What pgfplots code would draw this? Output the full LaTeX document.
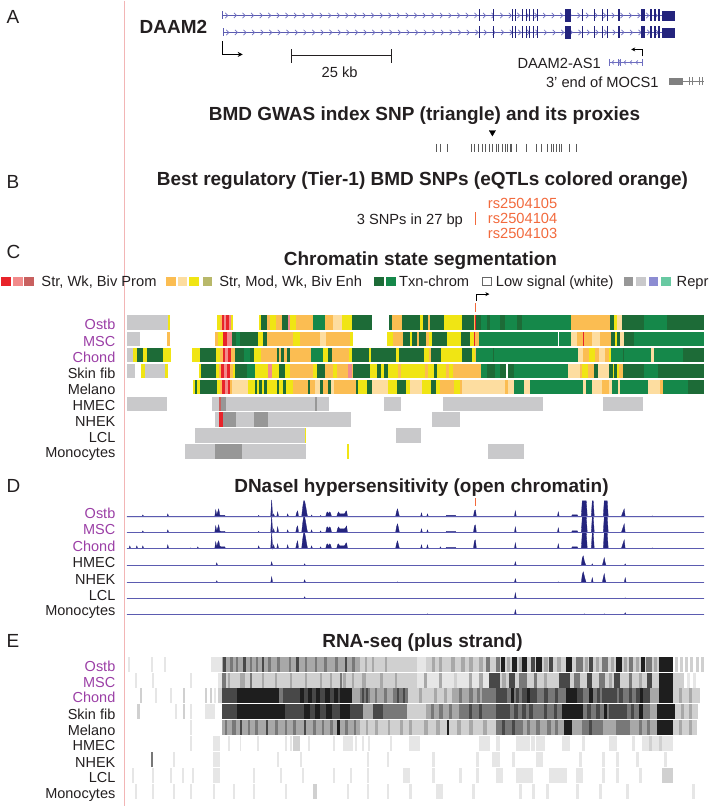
\documentclass[border=0pt]{standalone}
\usepackage{pgfplots}
\pgfplotsset{compat=1.18}
\usepackage{pgfplotstable}
\usepackage{fontspec}
\setmainfont{Liberation Sans}
\usetikzlibrary{decorations.markings,arrows.meta}

\definecolor{c1}{HTML}{E8232A}
\definecolor{c2}{HTML}{F28B8B}
\definecolor{c3}{HTML}{C8605F}
\definecolor{c4}{HTML}{FBBD52}
\definecolor{c5}{HTML}{FDDDA0}
\definecolor{c6}{HTML}{F0E514}
\definecolor{c7}{HTML}{B8B86A}
\definecolor{c8}{HTML}{1D6B37}
\definecolor{c9}{HTML}{15884A}
\definecolor{c10}{HTML}{979797}
\definecolor{c11}{HTML}{C9C9CB}
\definecolor{c12}{HTML}{8C8CD2}
\definecolor{c13}{HTML}{68C9A2}
\definecolor{r1}{HTML}{E6E6E6}
\definecolor{r2}{HTML}{D0D0D0}
\definecolor{r3}{HTML}{A8A8A8}
\definecolor{r4}{HTML}{787878}
\definecolor{r5}{HTML}{484848}
\definecolor{r6}{HTML}{1E1E1E}
\definecolor{txt}{HTML}{231F20}
\definecolor{lab}{HTML}{9B3FA6}
\definecolor{orng}{HTML}{F26A3D}
\definecolor{navy}{HTML}{24247D}
\definecolor{navyl}{HTML}{5B5BB0}
\definecolor{chev}{HTML}{6E6EC0}
\definecolor{pinkl}{HTML}{F2B5B5}

\newcommand\tfont{\fontsize{19}{22}\selectfont\bfseries}
\newcommand\pfont{\fontsize{19}{22}\selectfont}
\newcommand\lfont{\fontsize{14.5}{17}\selectfont}
\newcommand\sfont{\fontsize{14.7}{17}\selectfont}

\pgfdeclareplotmark{seg}{%
  \pgfpathrectangle{\pgfpoint{0pt}{-0.5*\segh pt}}{\pgfpoint{\segw pt}{\segh pt}}%
  \pgfusepathqfill}

\pgfplotsset{segplot/.style={only marks, mark=seg,
  visualization depends on={\thisrow{b}-\thisrow{a}+0.6 \as \segw},
  visualization depends on={value #1 \as \segh}}}

\pgfplotstableread{
a b y s
127 168 322.25 11
168 170 322.25 6
217 220 322.25 6
220 222 322.25 4
222 224 322.25 1
224 226 322.25 2
226 229 322.25 1
229 231 322.25 2
231 233 322.25 6
259 261 322.25 6
261 267 322.25 8
267 270 322.25 4
270 276 322.25 6
276 282 322.25 4
282 288 322.25 8
288 290 322.25 2
290 296 322.25 6
296 313 322.25 4
313 325 322.25 9
325 333 322.25 4
333 342 322.25 5
342 352 322.25 6
352 372 322.25 8
389 392 322.25 8
392 402 322.25 4
402 420 322.25 8
420 424 322.25 6
424 428 322.25 8
428 431 322.25 4
431 444 322.25 8
444 463 322.25 6
463 474 322.25 8
474 475 322.25 4
475 477 322.25 1
477 482 322.25 8
482 487 322.25 9
487 491 322.25 8
491 500 322.25 9
500 506 322.25 8
506 517 322.25 9
517 523 322.25 8
523 557 322.25 9
558 571 322.25 9
571 611 322.25 4
611 614 322.25 8
614 617 322.25 6
617 623 322.25 5
623 645 322.25 8
645 667 322.25 9
667 704 322.25 8
127 140 338.75 11
167 170 338.75 4
215 218 338.75 4
218 223 338.75 6
223 227 338.75 1
227 232 338.75 2
232 236 338.75 8
236 240 338.75 9
240 258 338.75 8
258 263 338.75 6
263 267 338.75 8
267 293 338.75 4
293 300 338.75 6
300 320 338.75 4
320 326 338.75 5
326 350 338.75 4
350 353 338.75 6
387 393 338.75 6
393 403 338.75 4
403 410 338.75 8
410 413 338.75 6
413 417 338.75 8
417 420 338.75 4
420 426 338.75 8
426 430 338.75 4
430 433 338.75 6
433 447 338.75 8
447 462 338.75 6
462 470 338.75 8
470 474 338.75 6
474 476 338.75 1
476 480 338.75 4
480 558 338.75 9
560 571 338.75 9
571 577 338.75 5
577 583 338.75 4
583 585 338.75 1
585 593 338.75 4
593 600 338.75 5
600 612 338.75 4
612 615 338.75 8
615 618 338.75 6
618 620 338.75 8
620 625 338.75 5
625 635 338.75 8
635 704 338.75 9
127 133 354.75 11
133 137 354.75 6
137 143 354.75 8
143 147 354.75 6
147 163 354.75 8
163 171 354.75 6
192 200 354.75 6
200 216 354.75 8
216 220 354.75 6
220 223 354.75 4
223 225 354.75 1
225 228 354.75 2
228 231 354.75 1
231 235 354.75 4
235 244 354.75 8
244 250 354.75 9
250 254 354.75 8
254 261 354.75 6
261 277 354.75 4
277 279 354.75 8
279 281 354.75 4
281 284 354.75 8
284 287 354.75 4
287 290 354.75 8
290 311 354.75 4
311 323 354.75 9
323 328 354.75 6
328 332 354.75 8
332 349 354.75 4
349 352 354.75 6
352 369 354.75 8
369 371 354.75 6
371 396 354.75 8
396 399 354.75 6
399 424 354.75 8
424 429 354.75 6
429 432 354.75 4
432 441 354.75 8
441 463 354.75 6
463 472 354.75 8
472 475 354.75 6
475 477 354.75 4
477 493 354.75 9
493 495 354.75 8
495 578 354.75 9
578 583 354.75 5
583 590 354.75 4
590 595 354.75 6
595 600 354.75 4
600 605 354.75 5
605 610 354.75 4
610 612 354.75 6
612 623 354.75 9
623 625 354.75 8
625 651 354.75 9
651 655 354.75 5
655 683 354.75 9
683 704 354.75 8
127 135 370.75 11
141 145 370.75 6
145 165 370.75 11
165 168 370.75 6
199 201 370.75 6
201 216 370.75 8
216 219 370.75 6
219 221 370.75 4
221 224 370.75 1
224 227 370.75 2
227 230 370.75 1
230 233 370.75 4
233 235 370.75 6
235 247 370.75 8
247 255 370.75 9
255 268 370.75 6
268 272 370.75 2
272 279 370.75 6
279 285 370.75 8
285 290 370.75 6
290 313 370.75 4
313 317 370.75 6
317 325 370.75 8
325 333 370.75 4
333 337 370.75 6
337 348 370.75 4
348 352 370.75 2
352 353 370.75 4
353 370 370.75 8
370 377 370.75 6
377 381 370.75 8
381 384 370.75 6
384 388 370.75 8
388 398 370.75 6
398 401 370.75 4
401 425 370.75 6
425 429 370.75 4
429 435 370.75 6
435 437 370.75 8
437 446 370.75 6
446 450 370.75 4
450 453 370.75 6
453 482 370.75 4
482 487 370.75 9
487 496 370.75 8
496 500 370.75 9
500 506 370.75 8
509 515 370.75 8
515 568 370.75 9
568 580 370.75 5
580 583 370.75 4
583 588 370.75 6
588 595 370.75 4
595 598 370.75 8
598 610 370.75 5
610 613 370.75 8
613 615 370.75 6
615 617 370.75 8
617 619 370.75 6
619 624 370.75 4
624 645 370.75 8
645 658 370.75 9
658 704 370.75 8
193 195 386.75 6
195 197 386.75 8
197 200 386.75 6
200 217 386.75 8
217 220 386.75 6
220 222 386.75 4
222 225 386.75 1
225 228 386.75 2
228 230 386.75 1
230 232 386.75 4
232 248 386.75 5
248 255 386.75 6
255 257 386.75 8
257 259 386.75 6
259 262 386.75 8
262 264 386.75 6
264 267 386.75 8
267 277 386.75 6
277 279 386.75 8
279 283 386.75 6
283 286 386.75 8
286 293 386.75 6
293 308 386.75 4
308 310 386.75 8
310 315 386.75 4
315 320 386.75 5
320 323 386.75 8
323 328 386.75 4
328 331 386.75 8
331 334 386.75 5
334 356 386.75 4
356 358 386.75 8
358 367 386.75 6
367 372 386.75 8
372 388 386.75 5
388 397 386.75 6
397 406 386.75 8
406 410 386.75 6
410 423 386.75 5
423 432 386.75 6
432 436 386.75 8
436 440 386.75 6
440 455 386.75 4
455 460 386.75 6
460 463 386.75 4
463 505 386.75 5
505 509 386.75 4
509 515 386.75 5
515 524 386.75 9
524 531 386.75 5
531 583 386.75 9
583 587 386.75 5
587 592 386.75 9
592 602 386.75 5
602 610 386.75 4
610 613 386.75 5
613 618 386.75 9
618 621 386.75 5
621 648 386.75 9
648 660 386.75 5
660 664 386.75 4
664 688 386.75 9
688 704 386.75 8
127 167 403.75 11
212 219 403.75 11
219 221 403.75 3
221 226 403.75 10
226 315 403.75 11
315 317 403.75 10
317 329 403.75 11
384 401 403.75 11
444 543 403.75 11
604 643 403.75 11
215 219 419.75 11
219 223 419.75 1
223 236 419.75 10
236 254 419.75 11
254 268 419.75 10
268 351 419.75 11
433 460 419.75 11
195 305 435.75 11
305 306 435.75 6
396 421 435.75 11
185 215 451.75 11
215 242 451.75 10
242 306 451.75 11
347 349 451.75 6
489 524 451.75 11
}\chrom

\pgfplotstableread{
a b y s
128 130 664.5 1
151 153 664.5 1
164 166 664.5 1
211 222 664.5 1
222 360 664.5 3
223 226 664.5 5
230 233 664.5 4
236 238 664.5 4
243 246 664.5 5
250 252 664.5 4
256 258 664.5 4
262 264 664.5 5
268 271 664.5 4
277 280 664.5 4
289 291 664.5 4
296 299 664.5 5
305 307 664.5 4
315 317 664.5 4
324 327 664.5 4
335 338 664.5 4
345 347 664.5 5
352 355 664.5 4
360 417 664.5 2
365 367 664.5 3
372 374 664.5 3
385 387 664.5 3
417 427 664.5 1
427 493 664.5 2
433 435 664.5 3
440 442 664.5 3
452 455 664.5 3
462 465 664.5 3
470 473 664.5 3
480 483 664.5 3
487 490 664.5 4
493 660 664.5 2
497 500 664.5 4
502 505 664.5 6
508 510 664.5 3
513 517 664.5 6
520 522 664.5 3
523 527 664.5 6
532 535 664.5 5
537 542 664.5 6
545 548 664.5 3
550 553 664.5 5
558 561 664.5 3
567 572 664.5 6
577 583 664.5 4
586 588 664.5 3
590 593 664.5 5
597 599 664.5 3
603 608 664.5 4
612 614 664.5 3
617 622 664.5 6
625 627 664.5 3
630 633 664.5 4
637 639 664.5 3
642 645 664.5 6
647 652 664.5 4
655 657 664.5 3
660 673 664.5 6
676 678 664.5 2
681 683 664.5 2
686 688 664.5 2
691 693 664.5 2
697 699 664.5 2
702 704 664.5 2
135 137 680.5 1
152 154 680.5 1
190 192 680.5 1
218 222 680.5 1
222 360 680.5 2
222 226 680.5 4
228 230 680.5 3
240 245 680.5 3
250 252 680.5 4
262 264 680.5 3
275 277 680.5 3
290 292 680.5 3
305 307 680.5 3
320 322 680.5 3
330 332 680.5 3
340 342 680.5 4
343 346 680.5 3
352 354 680.5 3
360 417 680.5 2
362 366 680.5 3
380 383 680.5 3
395 397 680.5 3
417 490 680.5 1
425 427 680.5 3
440 442 680.5 3
455 457 680.5 2
470 472 680.5 3
480 483 680.5 3
490 660 680.5 2
490 500 680.5 5
503 506 680.5 3
510 515 680.5 5
520 527 680.5 4
535 537 680.5 4
545 547 680.5 3
560 570 680.5 5
575 580 680.5 4
588 592 680.5 5
600 605 680.5 4
610 612 680.5 3
615 620 680.5 5
630 632 680.5 4
640 642 680.5 3
648 652 680.5 5
660 673 680.5 6
673 684 680.5 2
688 690 680.5 1
694 696 680.5 1
140 142 696 2
155 157 696 1
170 172 696 1
183 185 696 2
205 207 696 2
210 212 696 2
214 216 696 1
218 222 696 2
222 237 696 5
226 228 696 4
232 234 696 4
237 279 696 6
279 283 696 4
283 296 696 5
296 340 696 5
300 304 696 6
308 312 696 6
316 320 696 6
325 330 696 6
334 338 696 6
340 352 696 6
352 360 696 3
360 370 696 4
362 364 696 5
366 368 696 5
370 393 696 3
375 377 696 4
384 387 696 4
393 408 696 4
397 399 696 5
403 405 696 5
408 453 696 2
420 422 696 3
435 437 696 3
445 447 696 3
453 483 696 3
460 462 696 4
470 473 696 4
478 480 696 4
483 497 696 4
497 507 696 5
507 523 696 4
512 514 696 6
517 519 696 5
523 537 696 5
528 530 696 6
537 567 696 4
545 548 696 5
556 558 696 5
567 577 696 6
577 583 696 5
583 603 696 4
590 593 696 6
598 600 696 5
603 617 696 5
617 637 696 4
620 623 696 5
630 632 696 5
637 650 696 5
641 643 696 6
650 660 696 3
660 673 696 6
673 700 696 2
680 682 696 3
690 692 696 3
137 140 712 2
175 177 712 1
183 185 712 2
190 192 712 1
205 215 712 1
222 237 712 5
237 285 712 6
250 252 712 4
263 265 712 4
285 300 712 5
300 340 712 5
304 310 712 6
315 320 712 6
326 332 712 6
340 350 712 6
350 363 712 5
363 373 712 3
373 383 712 5
383 407 712 4
388 390 712 3
395 397 712 3
407 427 712 2
427 460 712 3
432 434 712 4
440 443 712 4
450 452 712 4
460 497 712 4
470 472 712 5
480 482 712 5
497 510 712 5
510 537 712 4
515 518 712 5
523 526 712 5
530 533 712 5
537 563 712 4
545 547 712 5
555 557 712 5
563 583 712 6
583 610 712 4
588 591 712 5
597 600 712 5
605 607 712 6
610 627 712 5
627 650 712 4
632 634 712 5
640 643 712 6
650 658 712 3
658 675 712 6
675 698 712 2
682 684 712 3
690 692 712 3
190 192 728 1
222 360 728 3
225 227 728 4
232 236 728 4
240 242 728 5
248 250 728 4
255 258 728 4
266 268 728 5
275 278 728 4
285 287 728 4
293 296 728 4
304 306 728 5
313 316 728 4
322 324 728 4
330 333 728 4
337 340 728 6
345 348 728 4
354 356 728 4
360 417 728 2
366 368 728 3
375 378 728 3
388 390 728 3
400 403 728 3
410 412 728 3
417 497 728 2
425 428 728 3
437 440 728 3
448 449 728 6
458 461 728 3
470 473 728 3
484 487 728 3
497 523 728 4
503 505 728 5
513 515 728 5
523 565 728 3
528 530 728 4
537 540 728 4
548 551 728 4
556 558 728 4
565 572 728 6
572 583 728 3
583 603 728 4
590 592 728 5
603 617 728 3
617 630 728 4
630 658 728 3
640 642 728 4
648 650 728 4
658 673 728 6
673 697 728 2
680 682 728 3
690 692 728 3
190 192 743.5 1
213 220 743.5 1
228 230 743.5 1
240 241 743.5 1
257 259 743.5 1
285 287 743.5 1
290 292 743.5 1
293 300 743.5 2
308 310 743.5 1
333 335 743.5 1
343 353 743.5 1
355 357 743.5 1
362 364 743.5 1
368 370 743.5 1
390 392 743.5 1
410 420 743.5 1
480 490 743.5 1
497 500 743.5 1
517 530 743.5 1
532 535 743.5 1
537 545 743.5 1
563 570 743.5 1
583 585 743.5 1
610 617 743.5 1
633 635 743.5 1
643 673 743.5 1
650 652 743.5 2
660 662 743.5 2
151 153 759.5 4
173 175 759.5 1
213 220 759.5 1
277 279 759.5 1
300 302 759.5 1
367 369 759.5 1
387 389 759.5 1
433 435 759.5 1
477 479 759.5 1
493 500 759.5 1
513 515 759.5 1
537 543 759.5 1
580 582 759.5 1
603 605 759.5 1
617 619 759.5 1
637 639 759.5 1
665 667 759.5 1
132 134 775.5 1
152 154 775.5 1
170 172 775.5 1
182 184 775.5 1
192 194 775.5 1
213 220 775.5 1
253 255 775.5 1
280 282 775.5 1
302 304 775.5 1
333 335 775.5 1
350 352 775.5 1
367 369 775.5 1
403 410 775.5 1
433 435 775.5 1
460 462 775.5 1
477 479 775.5 1
497 503 775.5 1
517 533 775.5 1
550 567 775.5 1
577 583 775.5 1
603 605 775.5 1
617 619 775.5 1
640 642 775.5 1
663 673 775.5 2
135 137 791.5 1
152 154 791.5 1
173 175 791.5 1
190 192 791.5 1
213 215 791.5 1
233 235 791.5 1
253 255 791.5 1
285 287 791.5 1
313 317 791.5 2
347 349 791.5 1
367 369 791.5 1
387 389 791.5 1
410 412 791.5 1
437 443 791.5 1
473 475 791.5 1
520 522 791.5 1
533 535 791.5 1
547 549 791.5 1
577 579 791.5 1
600 602 791.5 1
627 629 791.5 1
693 695 791.5 1
}\rna

\begin{document}
\begin{tikzpicture}
\begin{axis}[
  scale only axis, width=709pt, height=806pt,
  xmin=0, xmax=709, ymin=0, ymax=806, y dir=reverse,
  axis lines=none, clip=false,
]
\addplot[draw=none] coordinates {(0,0)(709,806)};
% pink divider
\addplot[pinkl, line width=1pt] coordinates {(125,0)(125,806)};

% ---------- A: gene models ----------
\addplot[navyl, line width=0.9pt, postaction={decorate},
  decoration={markings, mark=between positions 0.01 and 0.99 step 8.6pt with {\draw[chev, line width=0.7pt] (-1.8pt,2.6pt)--(0.8pt,0pt)--(-1.8pt,-2.6pt);}}]
  coordinates {(223,15)(663,15)};
\addplot[navyl, line width=0.9pt, postaction={decorate},
  decoration={markings, mark=between positions 0.01 and 0.99 step 8.6pt with {\draw[chev, line width=0.7pt] (-1.8pt,2.6pt)--(0.8pt,0pt)--(-1.8pt,-2.6pt);}}]
  coordinates {(224,32)(663,32)};
\addplot[navyl, only marks, mark=|, mark size=4, mark options={line width=0.9pt}] coordinates {(223,15)(224,32)};
\addplot[navy, only marks, mark=|, mark size=6, mark options={line width=1.5pt}] coordinates {
(480,15)(494,15)(513,15)(516,15)(523,15)(527,15)(530,15)(534,15)(538,15)(583,15)(595,15)(603,15)(608,15)(620,15)(643,15)(645,15)(652,15)(656,15)(660,15)
(480,32)(494,32)(513,32)(516,32)(523,32)(527,32)(530,32)(534,32)(538,32)(583,32)(595,32)(603,32)(608,32)(620,32)(643,32)(645,32)(652,32)(656,32)(660,32)};
\addplot[navy, fill=navy] coordinates {(566,9)(571,9)(571,21)(566,21)} -- cycle;
\addplot[navy, fill=navy] coordinates {(566,26)(571,26)(571,38)(566,38)} -- cycle;
\addplot[navy, fill=navy] coordinates {(663,11)(675,11)(675,20)(663,20)} -- cycle;
\addplot[navy, fill=navy] coordinates {(663,28)(675,28)(675,37)(663,37)} -- cycle;
% TSS arrow
\addplot[black, line width=1pt, -{Stealth[length=5pt,width=5pt]}] coordinates {(223,41)(223,54)(243,54)};
% scale bar
\addplot[txt, line width=0.8pt] coordinates {(292,55)(392,55)};
\addplot[txt, only marks, mark=|, mark size=7, mark options={line width=0.8pt}] coordinates {(292,56)(392,56)};
\node[anchor=base, font=\sfont, text=txt] at (axis cs:340,77) {25 kb};
% DAAM2-AS1
\addplot[chev, line width=0.7pt, postaction={decorate},
  decoration={markings, mark=between positions 0.1 and 0.95 step 6pt with {\draw[chev, line width=0.6pt] (1.4pt,2pt)--(-0.6pt,0pt)--(1.4pt,-2pt);}}]
  coordinates {(610,62)(643,62)};
\addplot[chev, only marks, mark=|, mark size=3.5, mark options={line width=0.8pt}] coordinates {(610,62)(619,62)(621,62)(643,62)};
\addplot[black, line width=0.9pt, -{Stealth[length=4pt,width=4pt]}] coordinates {(643,56)(643,49)(632,49)};
\node[anchor=base east, font=\sfont, text=txt] at (axis cs:605,68) {DAAM2-AS1};
% MOCS1
\addplot[gray, fill=gray] coordinates {(670,78)(683,78)(683,84)(670,84)} -- cycle;
\addplot[gray, line width=0.7pt] coordinates {(683,81)(705,81)};
\addplot[gray, only marks, mark=|, mark size=4, mark options={line width=0.8pt}] coordinates {(690,81)(693,81)(700,81)(703,81)};
\node[anchor=base east, font=\sfont, text=txt] at (axis cs:663,87) {3’ end of MOCS1};
\node[anchor=base east, font=\tfont, text=txt] at (axis cs:211,33) {DAAM2};
\node[anchor=base west, font=\pfont, text=txt] at (axis cs:3,23) {A};

% ---------- GWAS ----------
\node[anchor=base, font=\tfont, text=txt] at (axis cs:425,120) {BMD GWAS index SNP (triangle) and its proxies};
\addplot[only marks, mark=triangle*, mark size=3.6, mark options={rotate=180, fill=black, draw=black}] coordinates {(493,132)};
\addplot[gray!70!black, only marks, mark=|, mark size=4, mark options={line width=0.7pt}] coordinates {
(437,147.5)(441,147.5)(448,147.5)(472,147.5)(475,147.5)(479,147.5)(483,147.5)(486,147.5)(490,147.5)(493,147.5)(497,147.5)(499,147.5)(503,147.5)(506,147.5)(508,147.5)(511,147.5)(512,147.5)(517,147.5)(527,147.5)(537,147.5)(542,147.5)(548,147.5)(552,147.5)(554,147.5)(557,147.5)(560,147.5)(562,147.5)(570,147.5)(577,147.5)};

% ---------- B ----------
\node[anchor=base west, font=\pfont, text=txt] at (axis cs:3,188) {B};
\node[anchor=base, font=\tfont, text=txt] at (axis cs:423,185) {Best regulatory (Tier-1) BMD SNPs (eQTLs colored orange)};
\node[anchor=base east, font=\sfont, text=txt] at (axis cs:467,224) {3 SNPs in 27 bp};
\addplot[orng, line width=1.8pt] coordinates {(476,212)(476,225)};
\node[anchor=base west, font=\sfont, text=orng] at (axis cs:485,208) {rs2504105};
\node[anchor=base west, font=\sfont, text=orng] at (axis cs:485,223) {rs2504104};
\node[anchor=base west, font=\sfont, text=orng] at (axis cs:485,238) {rs2504103};

% ---------- C ----------
\node[anchor=base west, font=\pfont, text=txt] at (axis cs:3,258) {C};
\node[anchor=base, font=\tfont, text=txt] at (axis cs:421,265) {Chromatin state segmentation};
\addplot[c1, only marks, mark=square*, mark size=4.4] coordinates {(6,281)};
\addplot[c2, only marks, mark=square*, mark size=4.4] coordinates {(17.5,281)};
\addplot[c3, only marks, mark=square*, mark size=4.4] coordinates {(29,281)};
\node[anchor=base west, font=\sfont, text=txt] at (axis cs:38,286) {Str, Wk, Biv Prom};
\addplot[c4, only marks, mark=square*, mark size=4.4] coordinates {(171,281)};
\addplot[c5, only marks, mark=square*, mark size=4.4] coordinates {(182.5,281)};
\addplot[c6, only marks, mark=square*, mark size=4.4] coordinates {(194,281)};
\addplot[c7, only marks, mark=square*, mark size=4.4] coordinates {(207.5,281)};
\node[anchor=base west, font=\sfont, text=txt] at (axis cs:216,286) {Str, Mod, Wk, Biv Enh};
\addplot[c8, only marks, mark=square*, mark size=4.4] coordinates {(379,281)};
\addplot[c9, only marks, mark=square*, mark size=4.4] coordinates {(391,281)};
\node[anchor=base west, font=\sfont, text=txt] at (axis cs:396,286) {Txn-chrom};
\addplot[gray!80!black, only marks, mark=square*, mark size=4.2, mark options={fill=white, line width=0.8pt}] coordinates {(487.5,281)};
\node[anchor=base west, font=\sfont, text=txt] at (axis cs:493,286) {Low signal (white)};
\addplot[c10, only marks, mark=square*, mark size=4.4] coordinates {(629,281)};
\addplot[c11, only marks, mark=square*, mark size=4.4] coordinates {(641.5,281)};
\addplot[c12, only marks, mark=square*, mark size=4.4] coordinates {(654,281)};
\addplot[c13, only marks, mark=square*, mark size=4.4] coordinates {(666.5,281)};
\node[anchor=base west, font=\sfont, text=txt] at (axis cs:674,286) {Repr};
\addplot[black, line width=0.9pt, -{Stealth[length=4pt,width=4pt]}] coordinates {(477,301)(477,294)(490,294)};
\addplot[orng, line width=1.6pt] coordinates {(476,303)(476,312)};

\pgfplotsinvokeforeach{1,2,3,4,5,6,8,9,10,11}{
  \addplot[segplot=14.5, color=c#1, restrict expr to domain={\thisrow{s}}{#1:#1}] table[x=a,y=y] {\chrom};
}
\node[anchor=base east, font=\lfont, text=lab] at (axis cs:119,329) {Ostb};
\node[anchor=base east, font=\lfont, text=lab] at (axis cs:119,346) {MSC};
\node[anchor=base east, font=\lfont, text=lab] at (axis cs:119,362) {Chond};
\node[anchor=base east, font=\lfont, text=txt] at (axis cs:119,378) {Skin fib};
\node[anchor=base east, font=\lfont, text=txt] at (axis cs:119,394) {Melano};
\node[anchor=base east, font=\lfont, text=txt] at (axis cs:119,411) {HMEC};
\node[anchor=base east, font=\lfont, text=txt] at (axis cs:119,427) {NHEK};
\node[anchor=base east, font=\lfont, text=txt] at (axis cs:119,443) {LCL};
\node[anchor=base east, font=\lfont, text=txt] at (axis cs:119,458) {Monocytes};

% ---------- D: DNase ----------
\node[anchor=base west, font=\pfont, text=txt] at (axis cs:3,493) {D};
\node[anchor=base, font=\tfont, text=txt] at (axis cs:422,493) {DNaseI hypersensitivity (open chromatin)};
\addplot[orng, line width=1.6pt] coordinates {(476,498)(476,506)};
\addplot[navy, fill=navy, line width=0.3pt] coordinates {
(127,517)(142,517)(143,515)(144,517)(167,517)(168,514)(169,517)
(215,517)(216,510)(217,515)(218,512)(219,509)(220,515)(221,515.5)(225,515.5)(226,517)
(258,517)(259,515.5)(260,517)
(271,517)(272,500)(273,517)(274,514)(275,517)
(277,517)(278,512)(279,517)
(287,517)(288,514)(289,517)
(296,517)(297,513)(298,511)(299,517)
(302,517)(303,508)(304,501)(305,501)(306,506)(307,512)(308,517)
(311,517)(312,515)(313,517)
(320,517)(321,515.5)(322,517)
(326,517)(327,513)(328,512)(329,514)(330,512)(331,513)(332,517)
(337,517)(338,514)(339,512)(340,514)(345,514)(346,512)(347,511)(348,517)
(396,517)(397,512)(398,509)(399,513)(400,517)
(421,517)(422,513)(423,517)(427,517)(428,514)(429,517)
(446,517)(447,515.5)(456,515.5)(457,517)
(474,517)(475,511)(476,510)(477,517)
(515,517)(516,511)(517,517)
(558,517)(559,512)(560,517)
(572,517)(573,515)(578,515)(579,517)
(582,517)(583,501)(587,501)(588,517)
(592,517)(593,501)(594,501)(595,517)
(604,517)(605,501)(608,501)(609,517)
(622,517)(623,514)(625,509)(626,517)
(652,517)(653,516)(654,517)(705,517)} -- cycle;
\addplot[navy, fill=navy, line width=0.3pt] coordinates {
(127,533)(142,533)(143,531)(144,533)(167,533)(168,530)(169,533)
(215,533)(216,526)(217,531)(218,528)(219,525)(220,531)(221,531.5)(225,531.5)(226,533)
(258,533)(259,531.5)(260,533)
(271,533)(272,516)(273,533)(274,529)(275,533)
(277,533)(278,527)(279,533)
(287,533)(288,530)(289,533)
(296,533)(297,528)(298,526)(299,533)
(302,533)(303,524)(304,517)(305,517)(306,522)(307,528)(308,533)
(311,533)(312,530)(313,533)
(320,533)(321,531)(322,533)
(326,533)(327,528)(328,527)(329,529)(330,527)(331,528)(332,533)
(337,533)(338,529)(339,527)(340,529)(345,529)(346,528)(347,526)(348,533)
(396,533)(397,527)(398,524)(399,528)(400,533)
(421,533)(422,529)(423,533)(427,533)(428,530)(429,533)
(446,533)(447,531.5)(456,531.5)(457,533)
(474,533)(475,526)(476,525)(477,533)
(515,533)(516,527)(517,533)
(558,533)(559,528)(560,533)
(572,533)(573,531)(578,531)(579,533)
(582,533)(583,517)(587,517)(588,533)
(592,533)(593,517)(594,517)(595,533)
(604,533)(605,517)(608,517)(609,533)
(622,533)(623,530)(625,524)(626,533)
(705,533)} -- cycle;
\addplot[navy, fill=navy, line width=0.3pt] coordinates {
(127,549)(129,549)(130,546)(131,549)(136,549)(137,546)(138,549)(142,549)(143,546)(144,549)(167,549)(168,545)(169,549)
(190,549)(191,548)(192,549)(197,549)(198,547)(199,549)
(215,549)(216,542)(217,547)(218,543)(219,541)(220,546)(221,547)(225,547)(226,549)
(258,549)(259,546)(260,549)
(271,549)(272,533)(273,549)(274,545)(275,549)
(277,549)(278,544)(279,549)
(287,549)(288,545)(289,549)
(296,549)(297,544)(298,541)(299,549)
(302,549)(303,540)(304,533)(305,533)(306,538)(307,544)(308,549)
(311,549)(312,546)(313,549)
(320,549)(321,547)(322,549)
(326,549)(327,545)(328,544)(329,546)(330,544)(331,545)(332,549)
(337,549)(338,545)(339,544)(340,546)(345,546)(346,544)(347,543)(348,549)
(396,549)(397,544)(398,541)(399,545)(400,549)
(421,549)(422,545)(423,549)(427,549)(428,545)(429,549)
(440,549)(441,547)(442,549)(446,549)(447,547.5)(456,547.5)(457,549)
(474,549)(475,541)(476,540)(477,549)
(515,549)(516,543)(517,549)
(558,549)(559,544)(560,549)
(572,549)(573,547)(578,547)(579,549)
(582,549)(583,533)(587,533)(588,549)
(592,549)(593,533)(594,533)(595,549)
(604,549)(605,533)(608,533)(609,549)
(622,549)(623,546)(625,540)(626,549)
(652,549)(653,548)(654,549)(705,549)} -- cycle;
\addplot[navy, fill=navy, line width=0.3pt] coordinates {
(127,566)(216,566)(217,563)(218,566)(271,566)(272,562)(273,566)(304,566)(305,564)(306,566)
(515,566)(516,562)(517,566)(582,566)(583,558)(584,556)(585,561)(586,564)(587,566)
(592,566)(593,564)(594,566)(603,566)(604,562)(605,558)(606,563)(607,566)
(625,566)(626,564)(627,566)(705,566)} -- cycle;
\addplot[navy, fill=navy, line width=0.3pt] coordinates {
(127,583)(216,583)(217,581)(218,583)(271,583)(272,577)(273,583)(304,583)(305,580)(306,583)
(397,583)(398,582)(399,583)(515,583)(516,579)(517,583)(558,583)(559,582)(560,583)
(582,583)(583,575)(584,572)(585,576)(586,580)(587,583)(592,583)(593,578)(594,583)
(603,583)(604,578)(605,574)(606,580)(607,583)(625,583)(626,578)(627,583)(705,583)} -- cycle;
\addplot[navy, fill=navy, line width=0.3pt] coordinates {
(127,599)(304,599)(305,597)(306,599)(515,599)(516,593)(517,599)(625,599)(626,598)(627,599)(705,599)} -- cycle;
\addplot[navy, fill=navy, line width=0.3pt] coordinates {
(127,615)(427,615)(428,614)(429,615)(515,615)(516,610)(517,615)(584,615)(585,614)(586,615)
(604,615)(605,614)(606,615)(625,615)(626,613)(627,615)(705,615)} -- cycle;
\addplot[navyl, line width=0.8pt] coordinates {(127,517)(705,517)};
\addplot[navyl, line width=0.8pt] coordinates {(127,533)(705,533)};
\addplot[navyl, line width=0.8pt] coordinates {(127,549)(705,549)};
\addplot[navyl, line width=0.8pt] coordinates {(127,566)(705,566)};
\addplot[navyl, line width=0.8pt] coordinates {(127,583)(705,583)};
\addplot[navyl, line width=0.8pt] coordinates {(127,599)(705,599)};
\addplot[navyl, line width=0.8pt] coordinates {(127,615)(705,615)};
\node[anchor=base east, font=\lfont, text=lab] at (axis cs:119,519) {Ostb};
\node[anchor=base east, font=\lfont, text=lab] at (axis cs:119,535) {MSC};
\node[anchor=base east, font=\lfont, text=lab] at (axis cs:119,552) {Chond};
\node[anchor=base east, font=\lfont, text=txt] at (axis cs:119,568) {HMEC};
\node[anchor=base east, font=\lfont, text=txt] at (axis cs:119,585) {NHEK};
\node[anchor=base east, font=\lfont, text=txt] at (axis cs:119,601) {LCL};
\node[anchor=base east, font=\lfont, text=txt] at (axis cs:119,616) {Monocytes};

% ---------- E: RNA-seq ----------
\node[anchor=base west, font=\pfont, text=txt] at (axis cs:3,648) {E};
\node[anchor=base, font=\tfont, text=txt] at (axis cs:423,648) {RNA-seq (plus strand)};
\pgfplotsinvokeforeach{1,2,3,4,5,6}{
  \addplot[segplot=15, color=r#1, restrict expr to domain={\thisrow{s}}{#1:#1}] table[x=a,y=y] {\rna};
}
\node[anchor=base east, font=\lfont, text=lab] at (axis cs:119,672) {Ostb};
\node[anchor=base east, font=\lfont, text=lab] at (axis cs:119,688) {MSC};
\node[anchor=base east, font=\lfont, text=lab] at (axis cs:119,703) {Chond};
\node[anchor=base east, font=\lfont, text=txt] at (axis cs:119,720) {Skin fib};
\node[anchor=base east, font=\lfont, text=txt] at (axis cs:119,736) {Melano};
\node[anchor=base east, font=\lfont, text=txt] at (axis cs:119,751) {HMEC};
\node[anchor=base east, font=\lfont, text=txt] at (axis cs:119,768) {NHEK};
\node[anchor=base east, font=\lfont, text=txt] at (axis cs:119,783) {LCL};
\node[anchor=base east, font=\lfont, text=txt] at (axis cs:119,799) {Monocytes};
\end{axis}
\end{tikzpicture}
\end{document}
